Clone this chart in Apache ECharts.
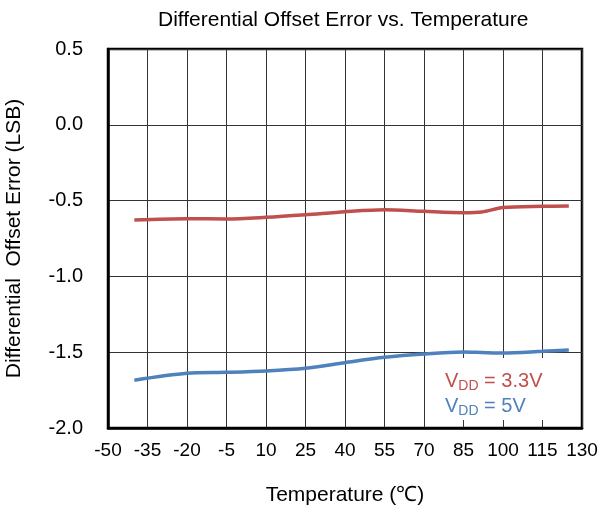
<!DOCTYPE html>
<html><head><meta charset="utf-8">
<script src="https://cdn.jsdelivr.net/npm/echarts@6/dist/echarts.min.js"></script>
<style>html,body{margin:0;padding:0;background:#fff}#c{width:600px;height:511px}</style>
</head><body><div id="c"></div>
<script>
var temps = [-40, -20, -5, 10, 25, 40, 55, 70, 85, 92, 100, 115, 125];
var vdd33 = [-0.628, -0.619, -0.621, -0.61, -0.593, -0.573, -0.56, -0.571, -0.58, -0.575, -0.546, -0.538, -0.536];
var vdd5 = [-1.685, -1.639, -1.633, -1.624, -1.606, -1.569, -1.534, -1.512, -1.499, -1.502, -1.505, -1.494, -1.486];
var seriesNames = ['VDD = 3.3V', 'VDD = 5V'];
var colors = ['#C0504D', '#4F81BD'];
var font = "'Liberation Sans', Arial, sans-serif";

function pairs(xs, ys){ return xs.map(function(x,i){ return [x, ys[i]]; }); }

var chart = echarts.init(document.getElementById('c'));
chart.setOption({
  animation: false,
  backgroundColor: '#fff',
  title: {
    text: 'Differential Offset Error vs. Temperature',
    left: 153, top: 5,
    textStyle: {fontFamily: font, fontSize: 21, fontWeight: 'normal', color: '#000'}
  },
  grid: {left: 108, right: 18, top: 49, bottom: 83, show: true, borderColor: '#000', borderWidth: 2.5,
         containLabel: false, outerBoundsMode: 'none'},
  xAxis: {
    type: 'value', min: -50, max: 130, interval: 15,
    name: 'Temperature (℃)', nameLocation: 'middle', nameGap: 57,
    nameTextStyle: {fontFamily: font, fontSize: 21, color: '#000'},
    axisLine: {show: true, onZero: false, lineStyle: {color: '#000', width: 2.5}},
    axisTick: {show: false},
    axisLabel: {fontFamily: font, fontSize: 19, color: '#000', margin: 13},
    splitLine: {show: true, lineStyle: {color: '#333', width: 1}}
  },
  yAxis: {
    type: 'value', min: -2, max: 0.5, interval: 0.5,
    name: 'Differential  Offset Error (LSB)', nameLocation: 'middle', nameGap: 83,
    nameTextStyle: {fontFamily: font, fontSize: 21, color: '#000'},
    axisLine: {show: true, onZero: false, lineStyle: {color: '#000', width: 2.5}},
    axisTick: {show: false},
    axisLabel: {fontFamily: font, fontSize: 20, color: '#000', margin: 25,
      formatter: function(v){ return v.toFixed(1); }},
    splitLine: {show: true, lineStyle: {color: '#333', width: 1}}
  },
  series: [
    {name: seriesNames[0], type: 'line', data: pairs(temps, vdd33), smooth: 0.3, showSymbol: false,
     lineStyle: {color: colors[0], width: 3.5}, itemStyle: {color: colors[0]}},
    {name: seriesNames[1], type: 'line', data: pairs(temps, vdd5), smooth: 0.3, showSymbol: false,
     lineStyle: {color: colors[1], width: 3.5}, itemStyle: {color: colors[1]}}
  ],
  graphic: [
    {type: 'rect', left: 437, top: 358, z: 90, shape: {width: 115, height: 62}, style: {fill: '#fff'}},
    {type: 'text', left: 445, top: 371, z: 100, style: {
      text: '{v|V}{s|DD}{v| = 3.3V}',
      rich: {
        v: {fontFamily: font, fontSize: 20, lineHeight: 24, fill: colors[0], color: colors[0]},
        s: {fontFamily: font, fontSize: 14, lineHeight: 9, verticalAlign: 'bottom', fill: colors[0], color: colors[0]}
      }}},
    {type: 'text', left: 445, top: 396, z: 100, style: {
      text: '{v|V}{s|DD}{v| = 5V}',
      rich: {
        v: {fontFamily: font, fontSize: 20, lineHeight: 24, fill: colors[1], color: colors[1]},
        s: {fontFamily: font, fontSize: 14, lineHeight: 9, verticalAlign: 'bottom', fill: colors[1], color: colors[1]}
      }}}
  ]
});
</script></body></html>
